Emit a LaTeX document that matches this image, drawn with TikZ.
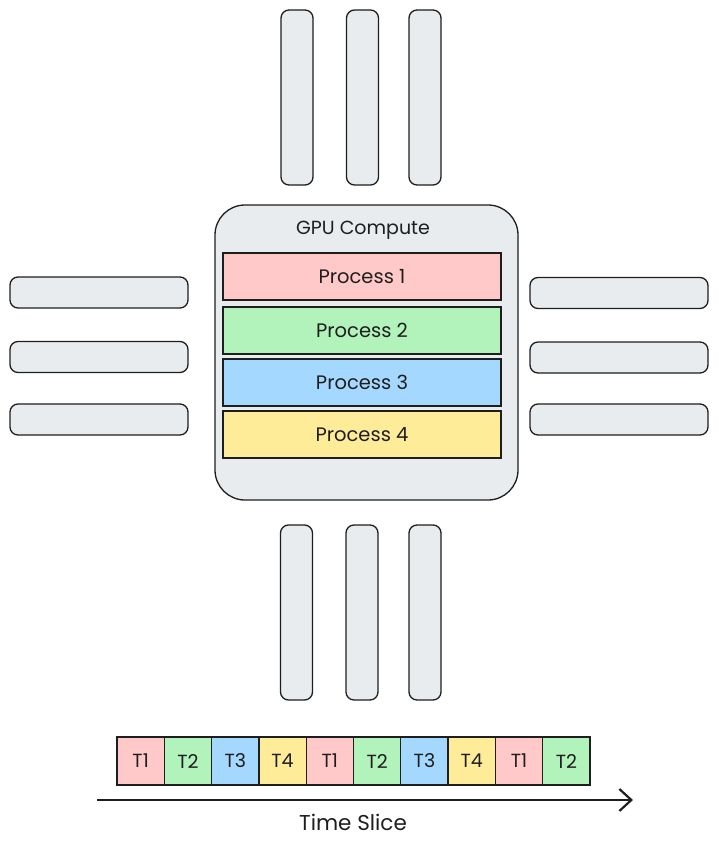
\documentclass[tikz,border=0pt]{standalone}
\usepackage{fontspec}
\setmainfont{Poppins}
\usepackage{tikz}
\usetikzlibrary{arrows.meta,positioning}
\definecolor{inkDark}{RGB}{30,30,30}
\definecolor{chipGray}{RGB}{233,236,239}
\definecolor{procRed}{RGB}{255,201,201}
\definecolor{procGreen}{RGB}{178,242,187}
\definecolor{procBlue}{RGB}{165,216,255}
\definecolor{procYellow}{RGB}{255,236,153}
\tikzset{
  chip/.style={draw=inkDark,fill=chipGray,rounded corners=30pt,line width=1.3pt,minimum width=303pt,minimum height=295pt},
  pin v/.style={draw=inkDark,fill=chipGray,rounded corners=8pt,line width=1.3pt,minimum width=32pt,minimum height=175pt},
  pin h/.style={draw=inkDark,fill=chipGray,rounded corners=8pt,line width=1.3pt,minimum width=178pt,minimum height=31pt},
  proc/.style={draw=inkDark,line width=1.3pt,minimum width=278pt,minimum height=47pt,text=inkDark,font=\fontsize{19.5}{22}\selectfont},
  slice/.style={draw=inkDark,line width=1.3pt,outer sep=0pt,minimum width=47.3pt,minimum height=48pt,text=inkDark,font=\fontsize{19}{22}\selectfont},
  label/.style={text=inkDark,font=\fontsize{19}{22}\selectfont},
  time arrow/.style={-{Straight Barb[length=12pt,width=22pt]},line width=2.2pt,draw=inkDark}
}
\begin{document}
\begin{tikzpicture}[x=1pt,y=-1pt]
        \useasboundingbox (0,0) rectangle (718,848);
        % pins
        \node[pin v] (pinTopA) at (297,97.5) {};
        \node[pin v] (pinTopB) at (362.5,97.5) {};
        \node[pin v] (pinTopC) at (425,97.5) {};
        \node[pin v] (pinBotA) at (296.5,612.5) {};
        \node[pin v] (pinBotB) at (362,612.5) {};
        \node[pin v] (pinBotC) at (425,612.5) {};
        \node[pin h] (pinLeftA) at (99,292.5) {};
        \node[pin h] (pinLeftB) at (99,357) {};
        \node[pin h] (pinLeftC) at (99,419.5) {};
        \node[pin h] (pinRightA) at (619,293) {};
        \node[pin h] (pinRightB) at (619,357.5) {};
        \node[pin h] (pinRightC) at (619,419.5) {};
        % chip
        \node[chip] (gpu) at (366.5,352.5) {};
        \node[label] (gpuTitle) at (363,230) {GPU Compute};
        \node[proc,fill=procRed] (proc1) at (362,276.5) {Process 1};
        \node[proc,fill=procGreen] (proc2) at (362,330.5) {Process 2};
        \node[proc,fill=procBlue] (proc3) at (362,382.5) {Process 3};
        \node[proc,fill=procYellow] (proc4) at (362,434.5) {Process 4};
        % time slices
        \node[slice,fill=procRed] (slice1) at (140.65,761) {T1};
        \node[slice,fill=procGreen,right=0pt of slice1] (slice2) {T2};
        \node[slice,fill=procBlue,right=0pt of slice2] (slice3) {T3};
        \node[slice,fill=procYellow,right=0pt of slice3] (slice4) {T4};
        \node[slice,fill=procRed,right=0pt of slice4] (slice5) {T1};
        \node[slice,fill=procGreen,right=0pt of slice5] (slice6) {T2};
        \node[slice,fill=procBlue,right=0pt of slice6] (slice7) {T3};
        \node[slice,fill=procYellow,right=0pt of slice7] (slice8) {T4};
        \node[slice,fill=procRed,right=0pt of slice8] (slice9) {T1};
        \node[slice,fill=procGreen,right=0pt of slice9] (slice10) {T2};
        \coordinate (timeStart) at (97,800);
        \coordinate (timeEnd) at (633,800);
        \draw[time arrow] (timeStart) -- (timeEnd);
        \node[label,font=\fontsize{21.5}{24}\selectfont] (timeLabel) at (353,822) {Time Slice};
      \end{tikzpicture}
\end{document}
